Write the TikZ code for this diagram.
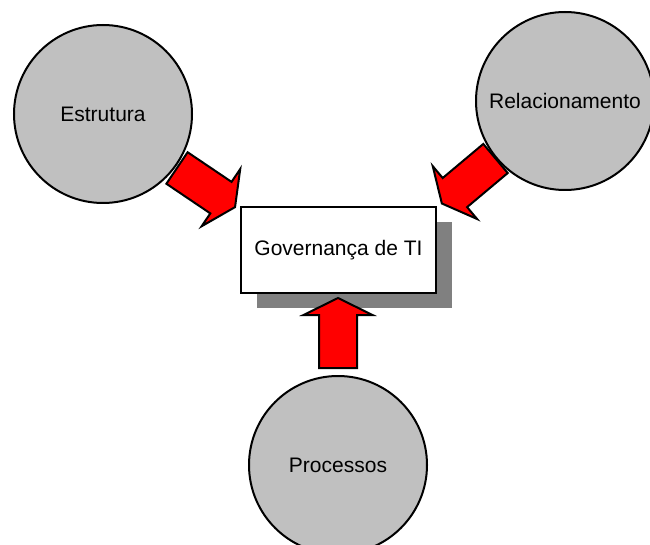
\documentclass[tikz,border=0pt]{standalone}
\usepackage{fontspec}
\setmainfont{Liberation Sans}
\usetikzlibrary{shadows}
\definecolor{discgray}{HTML}{C0C0C0}
\definecolor{shadowgray}{HTML}{808080}
\definecolor{arrowred}{HTML}{FF0000}
\tikzset{
  disc/.style={circle, draw=black, line width=2pt, fill=discgray,
    minimum size=178pt, inner sep=0pt, font=\fontsize{21}{24}\selectfont},
  govbox/.style={rectangle, draw=black, line width=2pt, fill=white,
    minimum width=195pt, minimum height=86pt, inner sep=0pt,
    font=\fontsize{21}{24}\selectfont,
    drop shadow={shadow xshift=16pt, shadow yshift=-15pt,
      fill=shadowgray, opacity=1}},
  arrowbody/.style={draw=black, line width=2pt, fill=arrowred, line join=miter},
  blockarrow/.pic={
    \path[arrowbody] (0,-19) -- (53,-19) -- (53,-34.5) -- (70,0)
      -- (53,34.5) -- (53,19) -- (0,19) -- cycle;
  }
}
\begin{document}
\begin{tikzpicture}[x=1pt, y=-1pt]
  \useasboundingbox (0,0) rectangle (650,545);
  \fill[white] (0,0) rectangle (650,545);

  % the three surrounding discs
  \node[disc] (estrutura) at (103,114) {Estrutura};
  \node[disc] (relacionamento) at (565,101) {Relacionamento};
  \node[disc] (processos) at (338,465) {Processos};

  % central box with its shadow
  \node[govbox] (gov) at (338.5,250) {Governança de TI};

  % tails of the block arrows
  \coordinate (tailE) at (177,168);
  \coordinate (tailR) at (495.5,158.5);
  \coordinate (tailP) at (338,368);

  % block arrows pointing into the box
  \pic[rotate=-34] at (tailE) {blockarrow};
  \pic[rotate=-140] at (tailR) {blockarrow};
  \pic[rotate=90] at (tailP) {blockarrow};
\end{tikzpicture}
\end{document}
